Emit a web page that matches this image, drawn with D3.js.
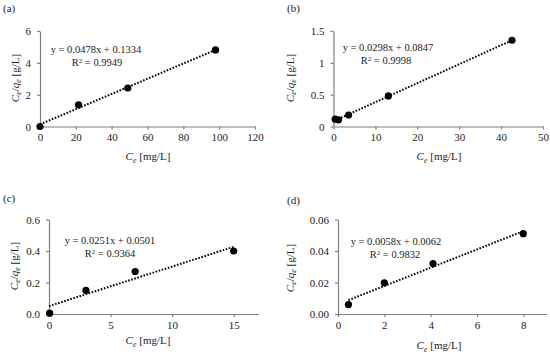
<!DOCTYPE html>
<html><head><meta charset="utf-8">
<script src="https://cdn.jsdelivr.net/npm/d3@7"></script>
<style>
body{margin:0;background:#fff;}
svg text{font-family:"Liberation Serif","Times New Roman",serif !important;fill:#222;}
</style></head>
<body>
<svg id="chart" width="550" height="356"></svg>
<script>
// Panel labels
const panelLabels = ["(a)", "(b)", "(c)", "(d)"];
// Data (Ce in mg/L, Ce/qe in g/L)
const ceA = [0, 21.5, 49, 98];
const qA  = [0, 1.36, 2.42, 4.81];
const ceB = [0.4, 1.2, 3.6, 13.1, 42.6];
const qB  = [0.115, 0.105, 0.18, 0.48, 1.355];
const ceC = [0.05, 3, 7, 15];
const qC  = [0.005, 0.15, 0.27, 0.40];
const ceD = [0.45, 2, 4.1, 8];
const qD  = [0.006, 0.0198, 0.032, 0.051];
// Trendline coefficients
const slopes = [0.0478, 0.0298, 0.0251, 0.0058];
const intercepts = [0.1334, 0.0847, 0.0501, 0.0062];
const eqLabels = ["y = 0.0478x + 0.1334", "y = 0.0298x + 0.0847", "y = 0.0251x + 0.0501", "y = 0.0058x + 0.0062"];
const r2Labels = ["0.9949", "0.9998", "0.9364", "0.9832"];
// Axis domains and ticks
const xMax = [120, 50, 17, 9];
const xTicks = [[0,20,40,60,80,100,120],[0,10,20,30,40,50],[0,5,10,15],[0,2,4,6,8]];
const yMax = [6, 1.5, 0.6, 0.06];
const yTicks = [[0,2,4,6],[0,0.5,1,1.5],[0,0.2,0.4,0.6],[0,0.02,0.04,0.06]];
const yFormats = [d3.format("d"), d3.format(""), d3.format(".1f"), d3.format(".2f")];
const xs = [ceA, ceB, ceC, ceD];
const ys = [qA, qB, qC, qD];
const trendStart = [0, 0.4, 0, 0.45];

// layout per panel
const layout = [
  {l:40, r:255, t:31, b:126.5, lab:[3,12], eq:[96,53], r2:[97,66], yt:[15,78], xt:[148,160]},
  {l:333.5, r:543, t:31, b:126.5, lab:[287,12], eq:[388,51], r2:[386,64], yt:[290,78], xt:[439,160]},
  {l:49, r:258.3, t:219.5, b:314, lab:[3,202], eq:[110,244], r2:[110,257], yt:[14,266], xt:[148,344]},
  {l:338, r:546.5, t:219.5, b:314, lab:[287,204], eq:[396,245], r2:[395,258], yt:[290,268], xt:[439,349]}
];

const svg = d3.select("#chart");
const axisColor = "#7f7f7f";

layout.forEach((L, i) => {
  const x = d3.scaleLinear().domain([0, xMax[i]]).range([L.l, L.r]);
  const y = d3.scaleLinear().domain([0, yMax[i]]).range([L.b, L.t]);
  const g = svg.append("g");

  const xa = g.append("g").attr("transform", `translate(0,${L.b})`)
    .call(d3.axisBottom(x).tickValues(xTicks[i]).tickSize(3).tickSizeOuter(0).tickPadding(4));
  const ya = g.append("g").attr("transform", `translate(${L.l},0)`)
    .call(d3.axisLeft(y).tickValues(yTicks[i]).tickFormat(yFormats[i]).tickSize(3).tickSizeOuter(0).tickPadding(6));
  [xa, ya].forEach(a => {
    a.attr("font-family", null);
    a.select(".domain").attr("stroke", axisColor).attr("stroke-width", 1.2);
    a.selectAll(".tick line").attr("stroke", axisColor).attr("stroke-width", 1.2);
    a.selectAll(".tick text").attr("font-size", 11).attr("fill", "#222");
  });

  // trendline
  const x0 = trendStart[i], x1 = d3.max(xs[i]);
  g.append("line")
    .attr("x1", x(x0)).attr("y1", y(slopes[i]*x0 + intercepts[i]))
    .attr("x2", x(x1)).attr("y2", y(slopes[i]*x1 + intercepts[i]))
    .attr("stroke", "#000").attr("stroke-width", 2)
    .attr("stroke-dasharray", "1.6,1.6");

  // points
  g.selectAll("circle.pt").data(xs[i].map((v, k) => [v, ys[i][k]])).join("circle")
    .attr("class", "pt")
    .attr("cx", d => x(d[0])).attr("cy", d => y(d[1])).attr("r", 3.6).attr("fill", "#000");

  // equation
  g.append("text").attr("x", L.eq[0]).attr("y", L.eq[1]).attr("text-anchor", "middle")
    .attr("font-size", 10.5).text(eqLabels[i]);
  const r2 = g.append("text").attr("x", L.r2[0]).attr("y", L.r2[1]).attr("text-anchor", "middle").attr("font-size", 10.5);
  r2.append("tspan").text("R");
  r2.append("tspan").attr("font-size", 7).attr("dy", -3.5).text("2");
  r2.append("tspan").attr("dy", 3.5).text(" = " + r2Labels[i]);

  // panel label
  g.append("text").attr("x", L.lab[0]).attr("y", L.lab[1]).attr("font-size", 11).text(panelLabels[i]);

  // x title
  const xt = g.append("text").attr("x", L.xt[0]).attr("y", L.xt[1]).attr("text-anchor", "middle").attr("font-size", 11);
  xt.append("tspan").attr("font-style", "italic").text("C");
  xt.append("tspan").attr("font-style", "italic").attr("font-size", 8).attr("dy", 2.5).text("e");
  xt.append("tspan").attr("dy", -2.5).text(" [mg/L]");

  // y title
  const yt = g.append("text").attr("transform", `translate(${L.yt[0]},${L.yt[1]}) rotate(-90)`)
    .attr("text-anchor", "middle").attr("font-size", 11).attr("dy", "0.35em");
  yt.append("tspan").attr("font-style", "italic").text("C");
  yt.append("tspan").attr("font-style", "italic").attr("font-size", 8).attr("dy", 2.5).text("e");
  yt.append("tspan").attr("dy", -2.5).text("/");
  yt.append("tspan").attr("font-style", "italic").text("q");
  yt.append("tspan").attr("font-style", "italic").attr("font-size", 8).attr("dy", 2.5).text("e");
  yt.append("tspan").attr("dy", -2.5).text("  [g/L]");
});
</script>
</body></html>
